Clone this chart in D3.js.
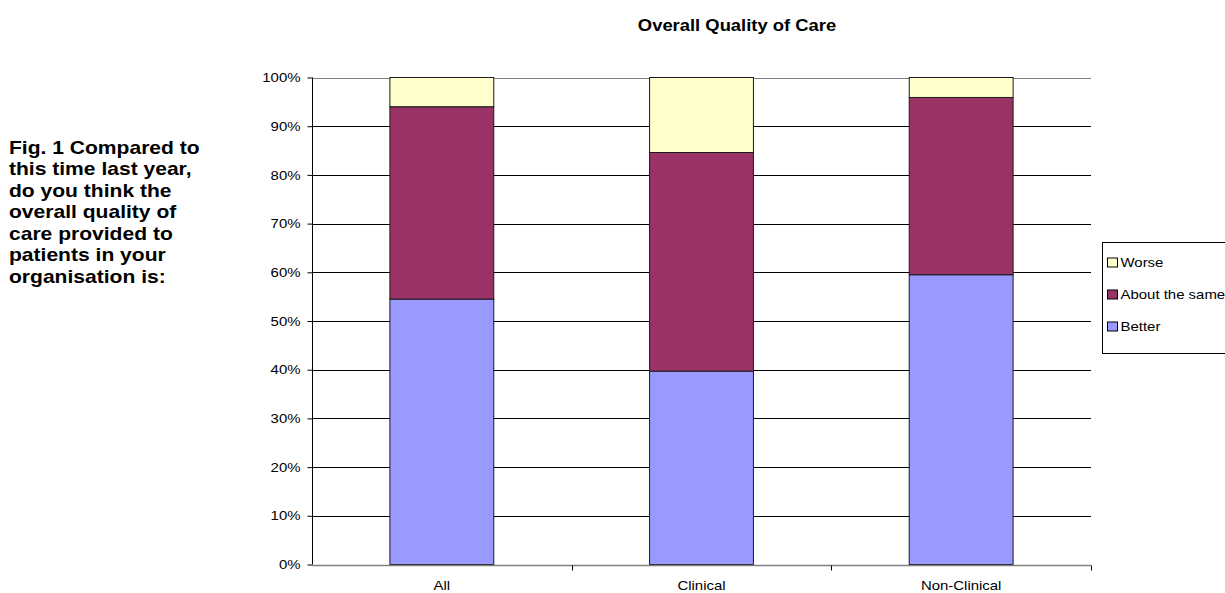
<!DOCTYPE html>
<html>
<head>
<meta charset="utf-8">
<script src="https://cdn.jsdelivr.net/npm/d3@7/dist/d3.min.js"></script>
<style>
  body { margin: 0; background: #fff; }
  svg { display: block; font-family: Arial, "Liberation Sans", sans-serif; }
</style>
</head>
<body>
<svg id="chart" width="1225" height="593"></svg>
<script>
// Survey groups and the share of answers in each (percent)
const categories = ["All", "Clinical", "Non-Clinical"];
const better     = [54.5, 39.7, 59.5];
const aboutSame  = [39.5, 44.9, 36.4];
const worse      = [6.0, 15.4, 4.1];
const seriesNames  = ["Better", "About the same", "Worse"];
const seriesColors = ["#9999FF", "#993366", "#FFFFCC"];
const yTicks = [0, 10, 20, 30, 40, 50, 60, 70, 80, 90, 100];

const rows = categories.map((c, i) => ({
  cat: c, "Better": better[i], "About the same": aboutSame[i], "Worse": worse[i]
}));
const stacked = d3.stack().keys(seriesNames)(rows);

const svg = d3.select("#chart");
const plot = { left: 312, right: 1091, top: 77.5, bottom: 564.5 };

// text in this sheet is drawn slightly wide
const SX = 1.15;
function stretch(sel, sx = SX) {
  sel.each(function () {
    const t = d3.select(this);
    const x = +t.attr("x") || 0;
    t.attr("x", 0).attr("transform", `translate(${x},0) scale(${sx},1)`);
  });
}

const x = d3.scaleBand().domain(categories).range([plot.left, plot.right]);
const y = d3.scaleLinear().domain([0, 100]).range([plot.bottom, plot.top]);
const barW = x.bandwidth() * 0.4;

// horizontal gridlines
svg.append("g").selectAll("line").data(yTicks.filter(t => t > 0)).join("line")
  .attr("x1", plot.left).attr("x2", plot.right)
  .attr("y1", d => Math.round(y(d)) + 0.5).attr("y2", d => Math.round(y(d)) + 0.5)
  .attr("stroke", d => d === 100 ? "#808080" : "#000").attr("stroke-width", 1);

// stacked bars
svg.append("g").selectAll("g").data(stacked).join("g")
  .attr("fill", (d, i) => seriesColors[i])
  .selectAll("rect").data(d => d).join("rect")
  .attr("x", d => x(d.data.cat) + (x.bandwidth() - barW) / 2)
  .attr("width", barW)
  .attr("y", d => y(d[1]))
  .attr("height", d => y(d[0]) - y(d[1]))
  .attr("stroke", "#1a1a1a").attr("stroke-width", 1);

// y axis
const yAxis = svg.append("g").attr("transform", `translate(${plot.left + 0.5},0)`)
  .call(d3.axisLeft(y).tickValues(yTicks).tickFormat(d => d + "%").tickSize(5).tickPadding(7));
yAxis.select(".domain").attr("stroke", "#000").attr("d", `M0,${plot.top}V${plot.bottom}`);
yAxis.selectAll(".tick line").attr("stroke", "#000");
yAxis.selectAll("text").attr("font-size", 13).attr("fill", "#000")
  .attr("font-family", "Arial, 'Liberation Sans', sans-serif").call(stretch);

// x axis (baseline, separators between groups)
const xg = svg.append("g").attr("transform", `translate(0,${Math.round(plot.bottom) + 0.5})`);
xg.append("line").attr("x1", plot.left).attr("x2", plot.right)
  .attr("stroke", "#808080").attr("stroke-width", 1.5);
const bounds = categories.map(c => x(c)).concat([plot.right]);
xg.selectAll("line.sep").data(bounds.slice(1)).join("line").attr("class", "sep")
  .attr("x1", d => Math.round(d) + 0.5).attr("x2", d => Math.round(d) + 0.5)
  .attr("y1", 0).attr("y2", 5).attr("stroke", "#000");
xg.selectAll("text").data(categories).join("text")
  .attr("x", d => x(d) + x.bandwidth() / 2).attr("y", 24.5)
  .attr("text-anchor", "middle").attr("font-size", 13).attr("fill", "#000")
  .text(d => d).call(stretch);

// chart title
svg.append("text").attr("x", 737).attr("y", 31).attr("text-anchor", "middle")
  .attr("font-size", 16).attr("font-weight", "bold").text("Overall Quality of Care")
  .call(stretch);

// question text at left
const question = ["Fig. 1 Compared to", "this time last year,", "do you think the",
  "overall quality of", "care provided to", "patients in your", "organisation is:"];
svg.append("g").selectAll("text").data(question).join("text")
  .attr("x", 9).attr("y", (d, i) => 154 + i * 21.5)
  .attr("font-size", 18).attr("font-weight", "bold").text(d => d)
  .call(stretch, 1.17);

// legend (Worse on top)
const lg = svg.append("g");
lg.append("rect").attr("x", 1102.5).attr("y", 242.5).attr("width", 140).attr("height", 111)
  .attr("fill", "#fff").attr("stroke", "#000");
const legendOrder = [2, 1, 0];
legendOrder.forEach((si, k) => {
  const cy = 262.5 + k * 32;
  lg.append("rect").attr("x", 1107.5).attr("y", cy - 4.5).attr("width", 10).attr("height", 9)
    .attr("fill", seriesColors[si]).attr("stroke", "#000");
  lg.append("text").attr("x", 1120.5).attr("y", cy + 4.5)
    .attr("font-size", 13).text(seriesNames[si]).call(stretch);
});
</script>
</body>
</html>
